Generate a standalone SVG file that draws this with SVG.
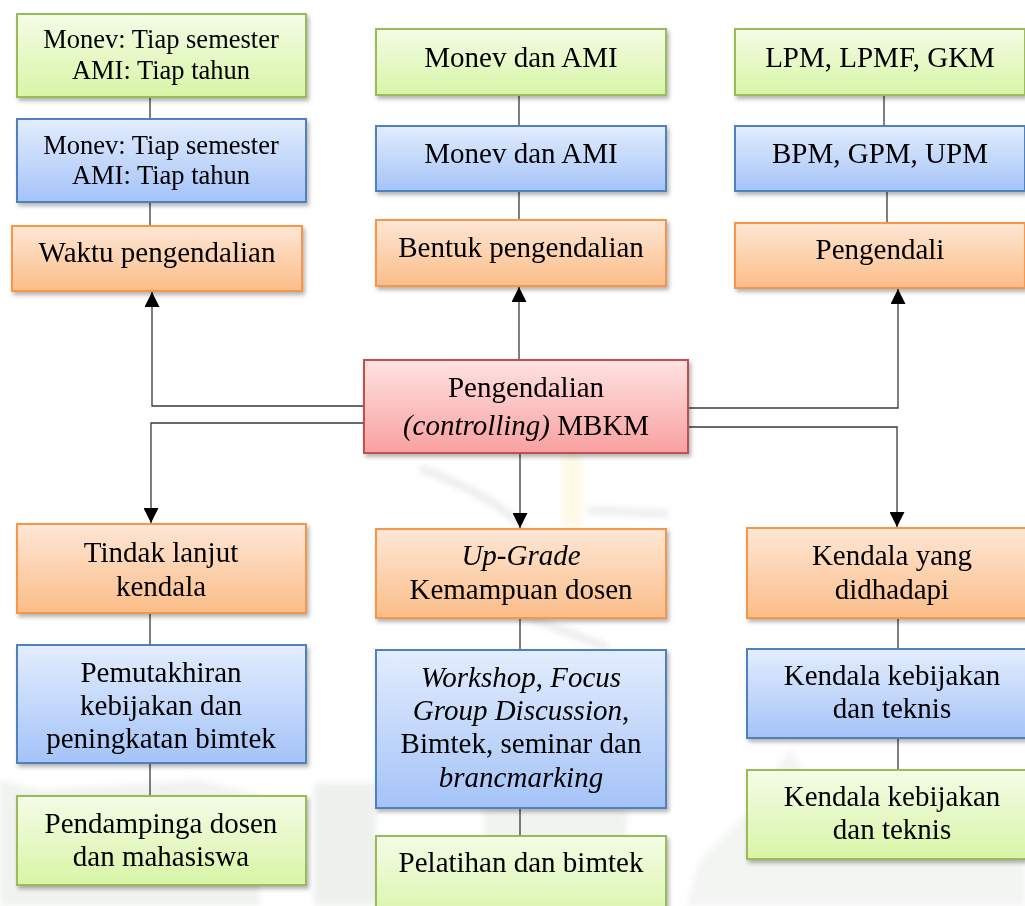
<svg xmlns="http://www.w3.org/2000/svg" width="1025" height="906" viewBox="0 0 1025 906">
  <style>
    .t { font-family: "Liberation Serif", "Times New Roman", serif; font-size: 29px; fill: #000; text-anchor: middle; }
    .s { font-size: 26.5px; }
    .i { font-style: italic; }
    .box { stroke-width: 2; filter: url(#shadow); }
    .g { fill: url(#gGreen); stroke: #9bbb59; }
    .b { fill: url(#gBlue); stroke: #4f81bd; }
    .o { fill: url(#gOrange); stroke: #f79646; }
    .r { fill: url(#gRed); stroke: #c0504d; }
    .ln { fill: none; stroke: #3a3a3a; stroke-width: 1.3; }
    .arr { fill: none; stroke: #3a3a3a; stroke-width: 1.3; marker-end: url(#head); }
    .wm { fill: #dfe6df; }
  </style>
  <defs>
    <linearGradient id="gGreen" x1="0" y1="0" x2="0" y2="1">
      <stop offset="0" stop-color="#f4fce7"/>
      <stop offset="1" stop-color="#d8f5a6"/>
    </linearGradient>
    <linearGradient id="gBlue" x1="0" y1="0" x2="0" y2="1">
      <stop offset="0" stop-color="#e3edfd"/>
      <stop offset="1" stop-color="#a4c3f8"/>
    </linearGradient>
    <linearGradient id="gOrange" x1="0" y1="0" x2="0" y2="1">
      <stop offset="0" stop-color="#fee7d6"/>
      <stop offset="1" stop-color="#fbbd88"/>
    </linearGradient>
    <linearGradient id="gRed" x1="0" y1="0" x2="0" y2="1">
      <stop offset="0" stop-color="#fee2e2"/>
      <stop offset="1" stop-color="#f9a0a0"/>
    </linearGradient>
    <filter id="shadow" x="-5%" y="-10%" width="115%" height="130%">
      <feDropShadow dx="2" dy="3" stdDeviation="2" flood-color="#000" flood-opacity="0.3"/>
    </filter>
    <filter id="soft" x="-10%" y="-10%" width="120%" height="120%">
      <feGaussianBlur stdDeviation="3"/>
    </filter>
    <marker id="head" markerUnits="userSpaceOnUse" markerWidth="15" markerHeight="15" viewBox="0 0 10 10" refX="10" refY="5" orient="auto">
      <path d="M0,0 L10,5 L0,10 z" fill="#000"/>
    </marker>
  </defs>

  <rect width="1025" height="906" fill="#ffffff"/>

  <!-- faint background emblem -->
  <g id="watermark" filter="url(#soft)" opacity="0.8">
    <path class="wm" d="M0,780 L40,790 L200,780 L260,795 L260,906 L0,906 z" opacity="0.6"/>
    <rect class="wm" x="314" y="783" width="62" height="123" opacity="0.7"/>
    <rect class="wm" x="484" y="808" width="143" height="30" opacity="0.6"/>
    <path class="wm" d="M686,906 L700,860 L760,800 L790,747 L820,800 L1025,780 L1025,906 z" opacity="0.5"/>
    <path d="M420,468 C450,480 500,500 525,530" fill="none" stroke="#d6dcd6" stroke-width="8" opacity="0.6"/>
    <path d="M588,510 L668,514" fill="none" stroke="#d6dcd6" stroke-width="8" opacity="0.6"/>
    <rect x="562" y="455" width="20" height="72" fill="#fbf7d8" opacity="0.8"/>
    <path d="M523,615 C560,630 590,640 608,648" fill="none" stroke="#d6dcd6" stroke-width="8" opacity="0.6"/>
  </g>

  <g id="connectors">
    <!-- top columns -->
    <path class="ln" d="M150,97 V119 M150,202 V226"/>
    <path class="ln" d="M519,95 V126 M519,191 V220"/>
    <path class="ln" d="M884,95 V126 M887,191 V223"/>
    <!-- from centre to the six heads -->
    <path class="arr" d="M364,406 H152 V292"/>
    <path class="arr" d="M364,423 H151 V523"/>
    <path class="arr" d="M519,360 V287"/>
    <path class="arr" d="M520,453 V528"/>
    <path class="arr" d="M688,408 H898 V289"/>
    <path class="arr" d="M688,427 H897 V527"/>
    <!-- bottom columns -->
    <path class="ln" d="M150,613 V645 M150,763 V796"/>
    <path class="ln" d="M520,618 V650 M520,808 V836"/>
    <path class="ln" d="M898,618 V649 M898,738 V770"/>
  </g>

  <!-- left top column -->
  <g id="tl-green">
    <rect class="box g" x="17" y="14" width="289" height="83"/>
    <text class="t s" x="161" y="48">Monev: Tiap semester</text>
    <text class="t s" x="161" y="79">AMI: Tiap tahun</text>
  </g>
  <g id="tl-blue">
    <rect class="box b" x="17" y="119" width="289" height="83"/>
    <text class="t s" x="161" y="154">Monev: Tiap semester</text>
    <text class="t s" x="161" y="184">AMI: Tiap tahun</text>
  </g>
  <g id="waktu">
    <rect class="box o" x="12" y="226" width="290" height="65"/>
    <text class="t" x="157" y="262">Waktu pengendalian</text>
  </g>

  <!-- middle top column -->
  <g id="tm-green">
    <rect class="box g" x="376" y="29" width="290" height="66"/>
    <text class="t" x="521" y="67">Monev dan AMI</text>
  </g>
  <g id="tm-blue">
    <rect class="box b" x="376" y="126" width="290" height="65"/>
    <text class="t" x="521" y="163">Monev dan AMI</text>
  </g>
  <g id="bentuk">
    <rect class="box o" x="376" y="220" width="290" height="66"/>
    <text class="t" x="521" y="257">Bentuk pengendalian</text>
  </g>

  <!-- right top column -->
  <g id="tr-green">
    <rect class="box g" x="735" y="29" width="290" height="66"/>
    <text class="t" x="880" y="67">LPM, LPMF, GKM</text>
  </g>
  <g id="tr-blue">
    <rect class="box b" x="735" y="126" width="290" height="65"/>
    <text class="t" x="880" y="163">BPM, GPM, UPM</text>
  </g>
  <g id="pengendali">
    <rect class="box o" x="735" y="223" width="290" height="65"/>
    <text class="t" x="880" y="259">Pengendali</text>
  </g>

  <!-- centre -->
  <g id="pengendalian">
    <rect class="box r" x="364" y="360" width="324" height="93"/>
    <text class="t" x="526" y="397">Pengendalian</text>
    <text class="t" x="526" y="435"><tspan class="i">(controlling)</tspan> MBKM</text>
  </g>

  <!-- left bottom column -->
  <g id="tindak">
    <rect class="box o" x="17" y="524" width="289" height="89"/>
    <text class="t" x="161" y="562">Tindak lanjut</text>
    <text class="t" x="161" y="596">kendala</text>
  </g>
  <g id="pemutakhiran">
    <rect class="box b" x="17" y="645" width="289" height="118"/>
    <text class="t" x="161" y="682">Pemutakhiran</text>
    <text class="t" x="161" y="715">kebijakan dan</text>
    <text class="t" x="161" y="748">peningkatan bimtek</text>
  </g>
  <g id="pendampinga">
    <rect class="box g" x="17" y="796" width="289" height="89"/>
    <text class="t" x="161" y="833">Pendampinga dosen</text>
    <text class="t" x="161" y="866">dan mahasiswa</text>
  </g>

  <!-- middle bottom column -->
  <g id="upgrade">
    <rect class="box o" x="376" y="529" width="290" height="89"/>
    <text class="t i" x="521" y="565">Up-Grade</text>
    <text class="t" x="521" y="599">Kemampuan dosen</text>
  </g>
  <g id="workshop">
    <rect class="box b" x="376" y="650" width="290" height="158"/>
    <text class="t" x="521" y="687"><tspan class="i">Workshop</tspan>, <tspan class="i">Focus</tspan></text>
    <text class="t" x="521" y="720"><tspan class="i">Group Discussion</tspan>,</text>
    <text class="t" x="521" y="753">Bimtek, seminar dan</text>
    <text class="t i" x="521" y="787">brancmarking</text>
  </g>
  <g id="pelatihan">
    <rect class="box g" x="376" y="836" width="290" height="89"/>
    <text class="t" x="521" y="872">Pelatihan dan bimtek</text>
  </g>

  <!-- right bottom column -->
  <g id="kendala-head">
    <rect class="box o" x="747" y="528" width="290" height="90"/>
    <text class="t" x="892" y="565">Kendala yang</text>
    <text class="t" x="892" y="599">didhadapi</text>
  </g>
  <g id="kendala-blue">
    <rect class="box b" x="747" y="649" width="290" height="89"/>
    <text class="t" x="892" y="685">Kendala kebijakan</text>
    <text class="t" x="892" y="718">dan teknis</text>
  </g>
  <g id="kendala-green">
    <rect class="box g" x="747" y="770" width="290" height="89"/>
    <text class="t" x="892" y="806">Kendala kebijakan</text>
    <text class="t" x="892" y="839">dan teknis</text>
  </g>
</svg>
